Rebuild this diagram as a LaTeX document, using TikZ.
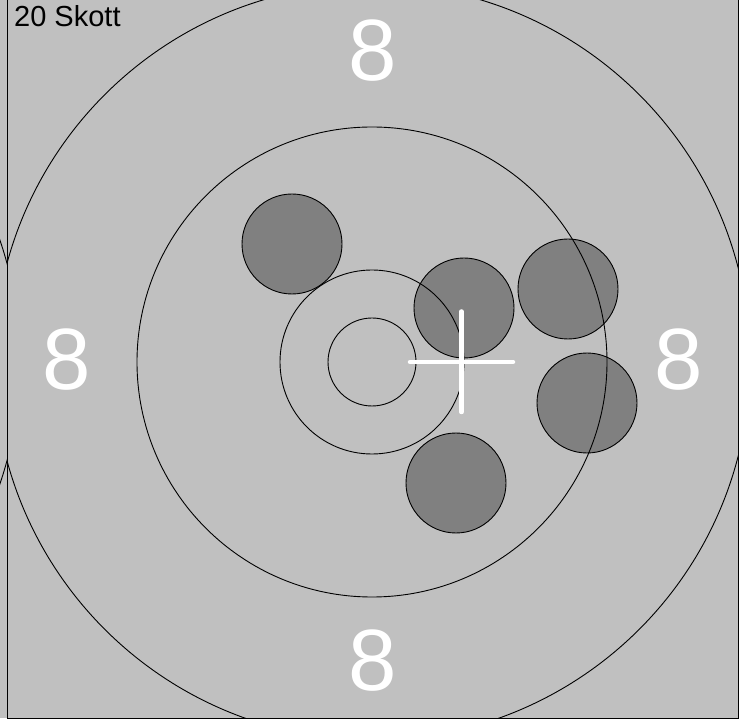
\documentclass[tikz,border=0pt]{standalone}
\usepackage{fontspec}
\setmainfont{Liberation Sans}
\definecolor{bggray}{RGB}{192,192,192}
\definecolor{shotgray}{RGB}{128,128,128}
\begin{document}
\begin{tikzpicture}[x=1pt,y=-1pt,
  ring/.style={circle,draw=black,line width=0.9pt,inner sep=0pt,minimum size=#1},
  shot/.style={circle,draw=black,fill=shotgray,line width=0.9pt,inner sep=0pt,minimum size=100pt},
  eight/.style={text=white,inner sep=0pt,font=\fontsize{87}{87}\selectfont},
  crossline/.style={white,line width=4.5pt,line cap=round}]
\useasboundingbox (0,0) rectangle (745,719);
\fill[bggray] (0,0) rectangle (738,718);
\begin{scope}
\clip (0,0) rectangle (7,718);
\node[ring=756pt] (r4m) at (-358,362) {};
\end{scope}
\draw[line width=1pt] (7,0) -- (7,718) -- (738,718) -- (738,0);
\begin{scope}
\clip (7,0) rectangle (738,718);
% shots
\node[shot] (s1) at (292,244) {};
\node[shot] (s2) at (464,308) {};
\node[shot] (s3) at (568,289) {};
\node[shot] (s4) at (587,403) {};
\node[shot] (s5) at (456,483) {};
% rings
\node[ring=88pt] (r1) at (372,362) {};
\node[ring=184pt] (r2) at (372,362) {};
\node[ring=470pt] (r3) at (372,362) {};
\node[ring=756pt] (r4) at (372,362) {};
\end{scope}
% cross
\coordinate (cl) at (410,362);
\coordinate (cr) at (513,362);
\coordinate (ct) at (461.5,311.5);
\coordinate (cb) at (461.5,412);
\draw[crossline] (cl) -- (cr);
\draw[crossline] (ct) -- (cb);
% eights
\node[eight] (top8) at (373,51) {8};
\node[eight] (bot8) at (373,660.5) {8};
\node[eight] (left8) at (66.5,360) {8};
\node[eight] (right8) at (678.5,360) {8};
% title
\node[anchor=base west,inner sep=0pt,font=\fontsize{29}{29}\selectfont] (title) at (14,26.7) {20 Skott};
\end{tikzpicture}
\end{document}
